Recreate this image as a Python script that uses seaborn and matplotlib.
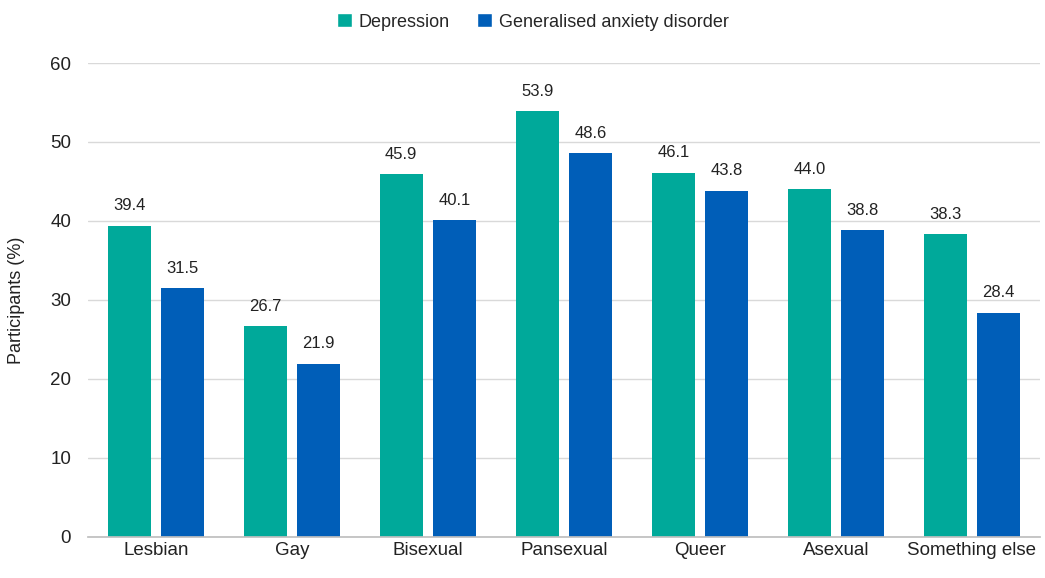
import matplotlib
matplotlib.use("Agg")
import matplotlib.pyplot as plt
import seaborn as sns
import pandas as pd
from matplotlib.patches import Patch

categories = ["Lesbian", "Gay", "Bisexual", "Pansexual", "Queer", "Asexual", "Something else"]
depression = [39.4, 26.7, 45.9, 53.9, 46.1, 44.0, 38.3]
anxiety = [31.5, 21.9, 40.1, 48.6, 43.8, 38.8, 28.4]
series_names = ["Depression", "Generalised anxiety disorder"]
colors = ["#00A99A", "#005EB8"]

df = pd.DataFrame({
    "category": categories * 2,
    "value": depression + anxiety,
    "series": [series_names[0]] * len(categories) + [series_names[1]] * len(categories),
})

sns.set_theme(style="white")
plt.rcParams["font.family"] = ["Liberation Sans", "DejaVu Sans"]

fig = plt.figure(figsize=(10.45, 5.78), dpi=100)
ax = fig.add_axes([0.084, 0.071, 0.911, 0.820])

sns.barplot(data=df, x="category", y="value", hue="series", order=categories,
            hue_order=series_names, palette=colors, width=0.78, gap=0.19,
            saturation=1, linewidth=0, ax=ax, legend=False)

for cont in ax.containers:
    ax.bar_label(cont, fmt="%.1f", padding=9, fontsize=12, color="#222222")

ax.set_ylim(0, 60)
ax.set_yticks(range(0, 61, 10))
ax.set_xlim(-0.5, len(categories) - 0.5)
ax.yaxis.grid(True, color="#D9D9D9", linewidth=1)
ax.set_axisbelow(True)
for s in ["top", "right", "left"]:
    ax.spines[s].set_visible(False)
ax.spines["bottom"].set_color("#BFBFBF")
ax.set_xlabel("")
ax.set_ylabel("Participants (%)", fontsize=13, color="#222222", labelpad=18)
ax.tick_params(axis="both", labelsize=13.5, colors="#222222", length=0)
ax.tick_params(axis="y", pad=12)

handles = [Patch(facecolor=c, label=n) for c, n in zip(colors, series_names)]
fig.legend(handles=handles, loc="upper center", bbox_to_anchor=(0.51, 1.005), ncol=2,
           frameon=False, fontsize=13, handlelength=0.8, handleheight=0.8,
           handletextpad=0.4, columnspacing=1.5)

fig.savefig("out.png", dpi=100)
